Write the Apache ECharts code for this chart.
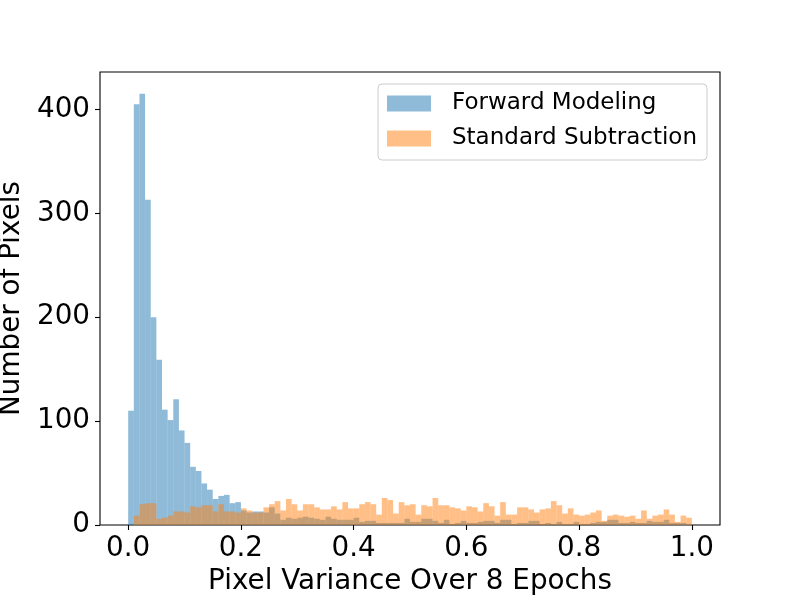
<!DOCTYPE html>
<html>
<head>
<meta charset="utf-8">
<script src="https://cdn.jsdelivr.net/npm/echarts@6/dist/echarts.min.js"></script>
<style>
  html, body { margin: 0; padding: 0; background: #fff; }
  #chart { width: 800px; height: 600px; }
</style>
</head>
<body>
<div id="chart"></div>
<script>
// histogram: 100 bins of width 0.01 from 0 to 1
const binStart = 0
const binWidth = 0.01

// counts per bin
const forwardModeling = [
  110, 405, 415, 313, 200, 159, 111, 101, 121, 91,
  79, 56, 52, 40, 34, 25, 28, 29, 21, 22,
  14, 12, 13, 13, 12, 17, 11, 5, 7, 6,
  7, 8, 7, 6, 5, 8, 6, 5, 5, 5,
  7, 3, 4, 4, 2, 2, 2, 2, 2, 6,
  3, 3, 6, 6, 4, 2, 5, 1, 2, 4,
  2, 2, 3, 4, 4, 2, 5, 5, 1, 2,
  2, 4, 4, 1, 2, 1, 3, 1, 1, 3,
  1, 1, 2, 3, 3, 5, 5, 2, 2, 3,
  2, 2, 4, 3, 3, 5, 2, 2, 2, 1
]
const standardSubtraction = [
  0, 9, 20, 21, 21, 6, 7, 9, 13, 13,
  12, 18, 17, 19, 19, 13, 20, 13, 13, 12,
  16, 14, 12, 12, 17, 20, 23, 14, 25, 20,
  14, 20, 20, 17, 15, 15, 18, 15, 22, 16,
  16, 20, 22, 20, 10, 26, 24, 11, 22, 19,
  20, 10, 19, 18, 26, 19, 19, 17, 16, 14,
  18, 17, 13, 21, 18, 9, 22, 10, 10, 17,
  17, 15, 12, 15, 16, 23, 19, 11, 16, 10,
  9, 10, 12, 14, 4, 9, 10, 9, 8, 9,
  6, 14, 6, 9, 10, 15, 10, 3, 9, 7
]
const xTicks = [0, 0.2, 0.4, 0.6, 0.8, 1.0]
const yTicks = [0, 100, 200, 300, 400]

function toBins(counts) {
  return counts.map((c, i) => [binStart + i * binWidth, binStart + (i + 1) * binWidth, c])
}

function renderBar(params, api) {
  const top = api.coord([api.value(0), api.value(2)])
  const bottom = api.coord([api.value(1), 0])
  return {
    type: 'rect',
    shape: { x: top[0], y: top[1], width: bottom[0] - top[0], height: bottom[1] - top[1] },
    style: { fill: api.visual('color') }
  }
}

const font = 'DejaVu Sans'
const chart = echarts.init(document.getElementById('chart'))
chart.setOption({
  animation: false,
  textStyle: { fontFamily: font },
  grid: {
    left: 100, right: 80, top: 72, bottom: 75,
    outerBoundsMode: 'none',
    containLabel: false,
    show: true, borderColor: '#000', borderWidth: 1.1, backgroundColor: '#fff'
  },
  legend: {
    data: ['Forward Modeling', 'Standard Subtraction'],
    orient: 'vertical',
    left: 378,
    top: 84,
    icon: 'rect',
    itemWidth: 44,
    itemHeight: 16,
    itemGap: 12,
    padding: [8, 10, 10, 9],
    backgroundColor: 'rgba(255,255,255,0.8)',
    borderColor: '#cccccc',
    borderWidth: 1,
    borderRadius: 4,
    textStyle: { fontFamily: font, fontSize: 23, color: '#000', padding: [0, 0, 0, 16] }
  },
  xAxis: {
    type: 'value',
    min: -0.05,
    max: 1.05,
    name: 'Pixel Variance Over 8 Epochs',
    nameLocation: 'middle',
    nameGap: 40,
    nameTextStyle: { fontFamily: font, fontSize: 27.8, color: '#000' },
    axisLine: { show: false, onZero: false },
    axisTick: { show: true, length: 5, customValues: xTicks, lineStyle: { color: '#000', width: 1.1 } },
    axisLabel: {
      customValues: xTicks, margin: 10, fontSize: 27.8, color: '#000', fontFamily: font,
      formatter: v => v.toFixed(1)
    },
    splitLine: { show: false }
  },
  yAxis: {
    type: 'value',
    min: 0,
    max: 436,
    name: 'Number of Pixels',
    nameLocation: 'middle',
    nameGap: 64,
    nameTextStyle: { fontFamily: font, fontSize: 27.8, color: '#000' },
    axisLine: { show: false, onZero: false },
    axisTick: { show: true, length: 5, customValues: yTicks, lineStyle: { color: '#000', width: 1.1 } },
    axisLabel: { customValues: yTicks, margin: 10, fontSize: 27.8, color: '#000', fontFamily: font },
    splitLine: { show: false }
  },
  series: [
    {
      name: 'Forward Modeling',
      type: 'custom',
      renderItem: renderBar,
      encode: { x: [0, 1], y: 2 },
      itemStyle: { color: 'rgba(31,119,180,0.5)' },
      data: toBins(forwardModeling)
    },
    {
      name: 'Standard Subtraction',
      type: 'custom',
      renderItem: renderBar,
      encode: { x: [0, 1], y: 2 },
      itemStyle: { color: 'rgba(255,127,14,0.5)' },
      data: toBins(standardSubtraction)
    }
  ]
})
</script>
</body>
</html>
